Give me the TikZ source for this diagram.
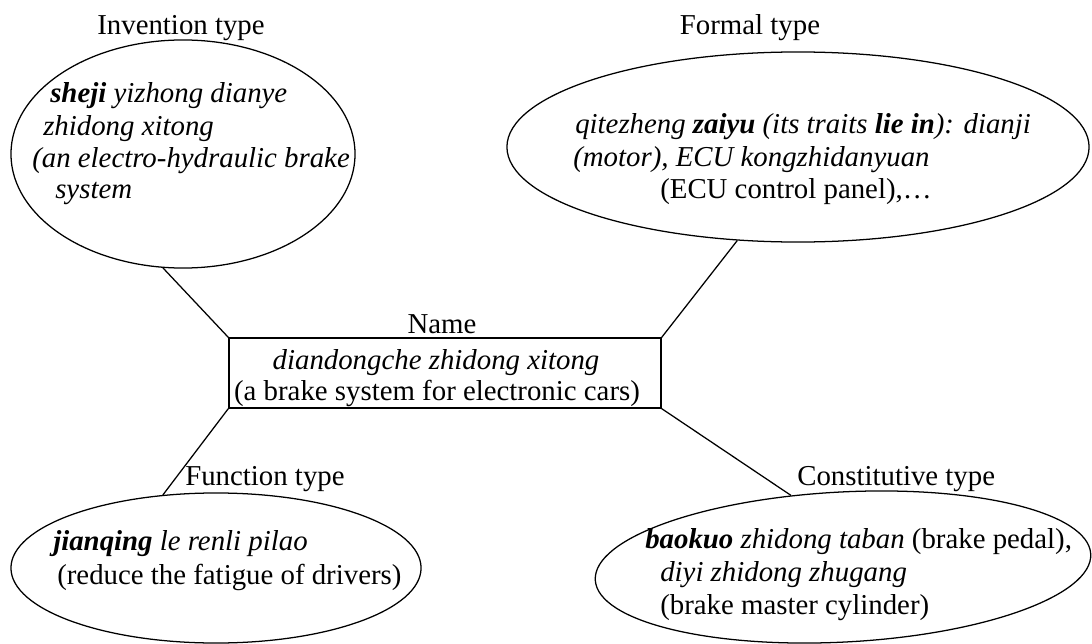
\documentclass[tikz,border=0pt]{standalone}
\usepackage{fontspec}
\setmainfont{Liberation Serif}
\usetikzlibrary{positioning,shapes.geometric}

\newcommand{\bi}[1]{\textbf{\textit{#1}}}

\begin{document}
\begin{tikzpicture}[
    x=0.025cm, y=-0.025cm,
    font=\fontsize{20.5}{22.7}\selectfont,
    tlabel/.style={
        inner sep=0pt, anchor=base
    },
    slot/.style={
        draw=black, line width=0.9pt,
        ellipse, inner sep=0pt
    },
    namebox/.style={
        draw=black, line width=0.9pt,
        minimum width=10.8cm, minimum height=1.75cm,
        inner sep=0pt
    },
    gloss/.style={
        inner sep=0pt, anchor=base west
    },
    link/.style={
        draw=black, line width=0.9pt
    }
]
\useasboundingbox (0,0) rectangle (1092,644);

% the four roles round the name
\node[slot, minimum width=8.6cm, minimum height=5.7cm] (inv) at (183,154) {};
\node[slot, minimum width=14.55cm, minimum height=4.75cm] (form) at (798,147) {};
\node[slot, minimum width=10.25cm, minimum height=3.75cm] (func) at (216,568) {};
\node[slot, minimum width=12.4cm, minimum height=3.75cm, rotate=3] (const) at (843,567) {};
\node[namebox] (name) at (445,373) {};

\node[tlabel] (linv) at (181,35) {Invention type};
\node[tlabel] (lform) at (750,35) {Formal type};
\node[tlabel] (lname) at (442,333) {Name};
\node[tlabel, anchor=base west] (lfunc) at (185,485) {Function type};
\node[tlabel, anchor=base west] (lconst) at (797,485) {Constitutive type};

% invention type
\node[gloss] (inv1) at (50,102) {\bi{sheji} \textit{yizhong dianye}};
\node[gloss] (inv2) at (43,136) {\textit{zhidong xitong}};
\node[gloss] (inv3) at (32,167) {\textit{(an electro-hydraulic brake}};
\node[gloss] (inv4) at (55,198) {\textit{system}};

% formal type
\node[gloss] (form1) at (575,134) {\textit{qitezheng} \bi{zaiyu} \textit{(its traits} \bi{lie in}\textit{): dianji}};
\node[gloss] (form2) at (573,166) {\textit{(motor), ECU kongzhidanyuan}};
\node[gloss] (form3) at (660,198) {(ECU control panel),\dots};

% name
\node[tlabel] (name1) at (436,369) {\textit{diandongche zhidong xitong}};
\node[tlabel] (name2) at (437,400) {(a brake system for electronic cars)};

% function type
\node[gloss] (func1) at (53,550) {\bi{jianqing} \textit{le renli pilao}};
\node[gloss] (func2) at (57,584) {(reduce the fatigue of drivers)};

% constitutive type
\node[gloss] (const1) at (645,548) {\bi{baokuo} \textit{zhidong taban} (brake pedal),};
\node[gloss] (const2) at (660,581) {\textit{diyi zhidong zhugang}};
\node[gloss] (const3) at (660,614) {(brake master cylinder)};

% connectors
\draw[link] (inv.260) -- (name.north west);
\draw[link] (form.237) -- (name.north east);
\draw[link] (func.126) -- (name.south west);
\draw[link] (const.123) -- (name.south east);

\end{tikzpicture}
\end{document}
